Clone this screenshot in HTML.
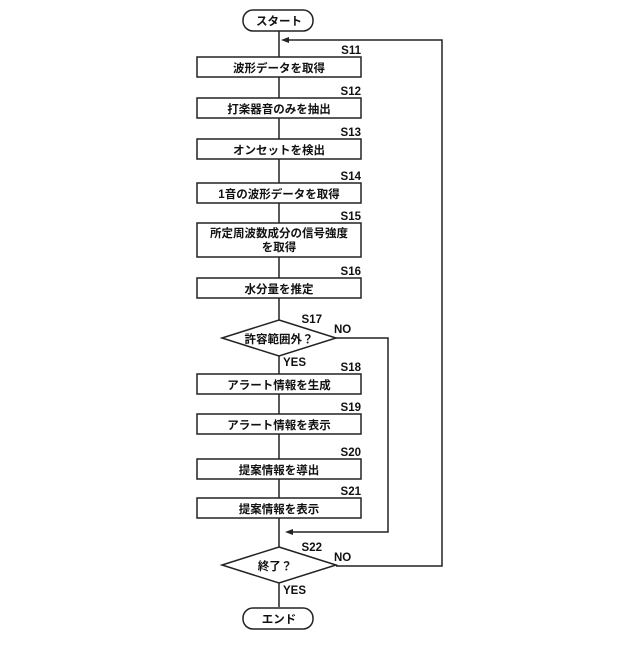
<!DOCTYPE html>
<html><head><meta charset="utf-8"><style>
body{margin:0;background:#fff;}
</style></head><body>
<svg width="640" height="640" viewBox="0 0 640 640" xmlns="http://www.w3.org/2000/svg" font-family="'Liberation Sans','Noto Sans CJK JP',sans-serif">
<g stroke="#222" stroke-width="1.5" fill="none">
<line x1="279" y1="31" x2="279" y2="320"/>
<line x1="279" y1="356" x2="279" y2="547"/>
<line x1="279" y1="583" x2="279" y2="607"/>
<rect x="243" y="10" width="70" height="21" rx="10" fill="#fff"/>
<rect x="243" y="608" width="70" height="21" rx="10" fill="#fff"/>
<rect x="197" y="57" width="164" height="20" fill="#fff"/>
<rect x="197" y="98" width="164" height="20" fill="#fff"/>
<rect x="197" y="139" width="164" height="20" fill="#fff"/>
<rect x="197" y="183" width="164" height="20" fill="#fff"/>
<rect x="197" y="223" width="164" height="34" fill="#fff"/>
<rect x="197" y="278" width="164" height="20" fill="#fff"/>
<rect x="197" y="374" width="164" height="20" fill="#fff"/>
<rect x="197" y="414" width="164" height="20" fill="#fff"/>
<rect x="197" y="459" width="164" height="20" fill="#fff"/>
<rect x="197" y="498" width="164" height="20" fill="#fff"/>
<polygon points="279,320 336,338 279,356 222,338" fill="#fff"/>
<polygon points="279,547 336,565 279,583 222,565" fill="#fff"/>
<polyline points="336,338 388,338 388,532 290,532"/>
<polyline points="336,566 442,566 442,40 286,40"/>
</g>
<polygon points="281,40 289,37 289,43" fill="#222"/>
<polygon points="285,532 293,529 293,535" fill="#222"/>
<g font-size="11.5" font-weight="600" fill="#111" text-anchor="middle">
<text x="279" y="25">スタート</text>
<text x="279" y="623">エンド</text>
<text x="279" y="72">波形データを取得</text>
<text x="279" y="113">打楽器音のみを抽出</text>
<text x="279" y="154">オンセットを検出</text>
<text x="279" y="198">1音の波形データを取得</text>
<text x="279" y="237">所定周波数成分の信号強度</text>
<text x="279" y="251">を取得</text>
<text x="279" y="293">水分量を推定</text>
<text x="279" y="343">許容範囲外？</text>
<text x="279" y="389">アラート情報を生成</text>
<text x="279" y="429">アラート情報を表示</text>
<text x="279" y="474">提案情報を導出</text>
<text x="279" y="513">提案情報を表示</text>
<text x="275" y="570">終了？</text>
</g>
<g font-size="11.5" font-weight="bold" fill="#111" text-anchor="end">
<text x="361" y="54">S11</text>
<text x="361" y="95">S12</text>
<text x="361" y="136">S13</text>
<text x="361" y="180">S14</text>
<text x="361" y="220">S15</text>
<text x="361" y="275">S16</text>
<text x="322" y="323">S17</text>
<text x="361" y="371">S18</text>
<text x="361" y="411">S19</text>
<text x="361" y="456">S20</text>
<text x="361" y="495">S21</text>
<text x="322" y="551">S22</text>
</g>
<g font-size="11.5" font-weight="600" fill="#111">
<text x="334" y="333">NO</text>
<text x="283" y="366">YES</text>
<text x="334" y="561">NO</text>
<text x="283" y="594">YES</text>
</g>
</svg>
</body></html>
